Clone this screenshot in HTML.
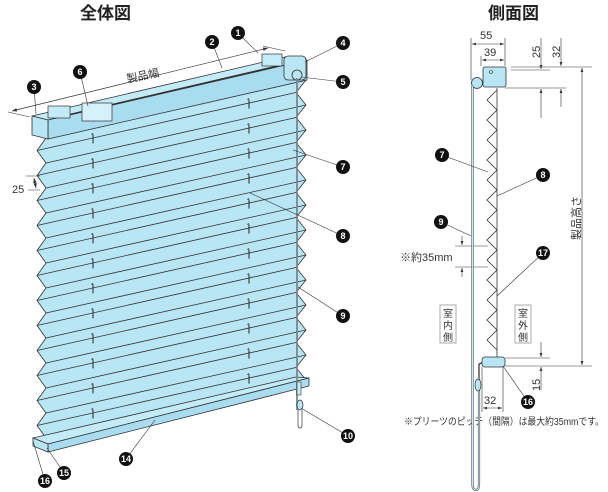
<!DOCTYPE html>
<html><head><meta charset="utf-8"><style>
html,body{margin:0;padding:0;background:#fff;width:608px;height:492px;overflow:hidden}
svg{display:block}
text{font-family:"Liberation Sans","Noto Sans CJK JP",sans-serif;fill:#333}
.t{font-weight:bold;font-size:17px;fill:#222}
.n{font-size:9px;font-weight:bold;fill:#fff;text-anchor:middle}
</style></head><body>
<svg id="s" width="608" height="492" viewBox="0 0 608 492" xmlns="http://www.w3.org/2000/svg">
<defs><marker id="a" markerWidth="8" markerHeight="6" refX="7" refY="3" orient="auto-start-reverse"><path d="M0,0.5 L7,3 L0,5.5z" fill="#333"/></marker></defs>
<text class="t" x="80" y="19">全体図</text>
<text class="t" x="488" y="19">側面図</text>
<g id="body" stroke="#333" stroke-width="0.8"></g>
<!-- headrail -->
<polygon points="32,116 285,57 307,60 48,120" fill="#c4ecf8" stroke="#333" stroke-width="0.8"/>
<polygon points="48,120 307,60 307,80 48,139" fill="#a9dcee" stroke="#333" stroke-width="0.8"/>
<polygon points="32,116 48,120 48,139 32,135" fill="#b8e6f5" stroke="#333" stroke-width="0.8"/>
<line x1="55" y1="118" x2="282" y2="65" stroke="#333" stroke-width="1.5"/>
<rect x="48" y="106" width="22" height="12" fill="#c4ecf8" stroke="#333" stroke-width="0.7"/>
<rect x="82" y="103" width="30" height="18" fill="#d6f1fa" stroke="#333" stroke-width="0.7"/>
<rect x="262" y="54" width="20" height="12" fill="#c4ecf8" stroke="#333" stroke-width="0.7"/>
<rect x="284" y="56" width="22" height="24" rx="4" fill="#b8e6f5" stroke="#333" stroke-width="0.8"/>
<circle cx="297" cy="75" r="5" fill="#b8e6f5" stroke="#333" stroke-width="0.8"/>
<!-- bottom rail -->
<polygon points="33,438 296,377 309,378 48,444" fill="#c4ecf8" stroke="#333" stroke-width="0.8"/>
<polygon points="48,444 309,378 309,386 48,452" fill="#a9dcee" stroke="#333" stroke-width="0.8"/>
<polygon points="33,438 48,444 48,452 33,446" fill="#b8e6f5" stroke="#333" stroke-width="0.8"/>
<!-- cord -->
<line x1="297" y1="78" x2="297" y2="410" stroke="#555" stroke-width="1.8"/>
<line x1="297" y1="78" x2="297" y2="410" stroke="#c4ecf8" stroke-width="0.6"/>
<rect x="297" y="382" width="4" height="13" fill="#c4ecf8" stroke="#333" stroke-width="0.6"/>
<ellipse cx="300" cy="405" rx="3" ry="5" fill="#b8e6f5" stroke="#333" stroke-width="0.7"/>
<path d="M298,410 L298,425 Q298,428 300,428 Q302,428 302,425 L302,410" fill="none" stroke="#333" stroke-width="0.7"/>
<!-- dims left -->
<line x1="12" y1="111" x2="268" y2="48" stroke="#333" stroke-width="0.7" marker-start="url(#a)" marker-end="url(#a)"/>
<line x1="8" y1="112" x2="30" y2="117" stroke="#333" stroke-width="0.6"/>
<line x1="263" y1="46" x2="285" y2="51" stroke="#333" stroke-width="0.6"/>
<text x="126" y="79" font-size="11" transform="rotate(-12 145 74)">製品幅</text>
<text x="12" y="193" font-size="11">25</text>
<line x1="26" y1="176" x2="40" y2="176" stroke="#333" stroke-width="0.5"/>
<line x1="28" y1="190" x2="40" y2="190" stroke="#333" stroke-width="0.5"/>
<line x1="34" y1="178" x2="36" y2="188" stroke="#333" stroke-width="0.7" marker-start="url(#a)" marker-end="url(#a)"/>
<!-- side view -->
<g stroke="#333" stroke-width="0.6" fill="none">
<line x1="471" y1="38" x2="471" y2="80"/><line x1="505" y1="38" x2="505" y2="66"/><line x1="481" y1="56" x2="481" y2="66"/>
<line x1="472" y1="44" x2="504" y2="44" marker-start="url(#a)" marker-end="url(#a)"/>
<line x1="482" y1="60" x2="504" y2="60" marker-start="url(#a)" marker-end="url(#a)"/>
<line x1="511" y1="67" x2="592" y2="67"/><line x1="511" y1="70" x2="550" y2="70"/>
<line x1="505" y1="88" x2="566" y2="88"/>
<line x1="541" y1="38" x2="541" y2="69" marker-end="url(#a)"/><line x1="541" y1="118" x2="541" y2="89" marker-end="url(#a)"/>
<line x1="561" y1="38" x2="561" y2="66" marker-end="url(#a)"/><line x1="561" y1="107" x2="561" y2="89" marker-end="url(#a)"/>
<line x1="582" y1="68" x2="582" y2="365" marker-start="url(#a)" marker-end="url(#a)"/>
<line x1="505" y1="366" x2="592" y2="366"/><line x1="505" y1="358" x2="550" y2="358"/>
<line x1="541" y1="342" x2="541" y2="357" marker-end="url(#a)"/><line x1="541" y1="390" x2="541" y2="367" marker-end="url(#a)"/>
<line x1="482" y1="367" x2="482" y2="412"/><line x1="503" y1="367" x2="503" y2="412"/>
<line x1="483" y1="408" x2="502" y2="408" marker-start="url(#a)" marker-end="url(#a)"/>
<line x1="455" y1="246" x2="488" y2="246"/><line x1="455" y1="267" x2="488" y2="267"/>
<line x1="462" y1="236" x2="462" y2="245" marker-end="url(#a)"/><line x1="462" y1="277" x2="462" y2="268" marker-end="url(#a)"/>
</g>
<text font-size="11" transform="translate(540 58) rotate(-90)">25</text>
<text font-size="11" transform="translate(560 58) rotate(-90)">32</text>
<text font-size="11" transform="translate(540 391) rotate(-90)">15</text>
<text font-size="11" x="484" y="404">32</text>
<text font-size="11" x="480" y="39">55</text>
<text font-size="11" x="484" y="56">39</text>
<text font-size="11" transform="translate(580 240) rotate(-90)">製品高さ</text>
<text font-size="11" x="400" y="261">※約35mm</text>
<rect x="440" y="305" width="16" height="38" fill="#fff" stroke="#888" stroke-width="0.7"/>
<text font-size="10" x="443" y="317">室</text><text font-size="10" x="443" y="329">内</text><text font-size="10" x="443" y="341">側</text>
<rect x="515" y="305" width="16" height="38" fill="#fff" stroke="#888" stroke-width="0.7"/>
<text font-size="10" x="518" y="317">室</text><text font-size="10" x="518" y="329">外</text><text font-size="10" x="518" y="341">側</text>
<text font-size="10" x="404" y="425" textLength="200" lengthAdjust="spacingAndGlyphs">※プリーツのピッチ（間隔）は最大約35mmです。</text>
<rect x="483" y="67" width="23" height="20" rx="2" fill="#b8e6f5" stroke="#333" stroke-width="0.8"/>
<circle cx="491" cy="72" r="1.5" fill="none" stroke="#333" stroke-width="0.6"/>
<circle cx="477" cy="83" r="5.5" fill="#b8e6f5" stroke="#333" stroke-width="0.8"/>
<path d="M472.5,86 L472.5,484 Q472.5,490 476,490 Q479,490 479,484 L479,378" fill="none" stroke="#555" stroke-width="2.2"/>
<path d="M472.5,86 L472.5,484 Q472.5,490 476,490 Q479,490 479,484 L479,378" fill="none" stroke="#c4ecf8" stroke-width="1"/>
<path d="M479,378 L479,364 L484,362" fill="none" stroke="#555" stroke-width="1.5"/>
<ellipse cx="478" cy="385" rx="3" ry="6" fill="#b8e6f5" stroke="#333" stroke-width="0.7"/>
<polyline id="zz" fill="none" stroke="#333" stroke-width="0.8"/>
<line x1="497" y1="88" x2="497" y2="357" stroke="#333" stroke-width="0.8"/>
<rect x="482" y="357" width="23" height="10" rx="3" fill="#b8e6f5" stroke="#333" stroke-width="0.8"/>
<g id="lead" stroke="#333" stroke-width="0.6"></g>
<g id="marks"></g>
</svg>
<script>
var NS="http://www.w3.org/2000/svg",s=document.getElementById('s');
function el(p,t,a){var e=document.createElementNS(NS,t);for(var k in a)e.setAttribute(k,a[k]);p.appendChild(e);return e;}
var body=document.getElementById('body');
var L=[],R=[];
for(var k=0;k<=24;k++){var y=138+12.5*k;L.push([k%2?37:46,y]);R.push([k%2?296:306,y-58]);}
var pts=L.map(p=>p.join(',')).concat(R.slice().reverse().map(p=>p.join(','))).join(' ');
el(body,'polygon',{points:pts,fill:'#b8e6f5',stroke:'#333','stroke-width':0.8});
for(var k=1;k<24;k++){el(body,'line',{x1:L[k][0],y1:L[k][1],x2:R[k][0],y2:R[k][1]});}
for(var k=0;k<24;k+=2){[93,249].forEach(function(x){var y=138+12.5*k-58*(x-41)/260+8;
el(body,'path',{d:'M'+x+','+y+' l0,9 M'+(x-1.5)+','+y+' l1.5,-1',fill:'none','stroke-width':1.1});});}
var z=[];for(var y=90,i=0;y<=356;y+=10,i++)z.push((i%2?487:497)+','+y);
document.getElementById('zz').setAttribute('points',z.join(' '));
var lead=document.getElementById('lead'),marks=document.getElementById('marks');
var M=[[1,238,33,258,53],[2,212,42,222,68],[3,34,87,36,114],[4,343,43,305,62],[5,343,82,301,77],[6,80,72,88,106],[7,343,167,293,150],[8,343,236,250,193],[9,343,316,298,287],[10,348,436,301,408],[14,126,459,155,420],[15,64,473,47,448],[16,45,481,33,441],
[7,442,155,488,172],[8,543,175,497,196],[9,441,222,471,236],[17,543,253,497,296],[16,528,402,503,366]];
M.forEach(function(m){el(lead,'line',{x1:m[1],y1:m[2],x2:m[3],y2:m[4]});});
M.forEach(function(m){el(marks,'circle',{cx:m[1],cy:m[2],r:7,fill:'#111'});var t=el(marks,'text',{x:m[1],y:m[2]+3.2,'class':'n'});t.textContent=m[0];});
</script>
</body></html>
